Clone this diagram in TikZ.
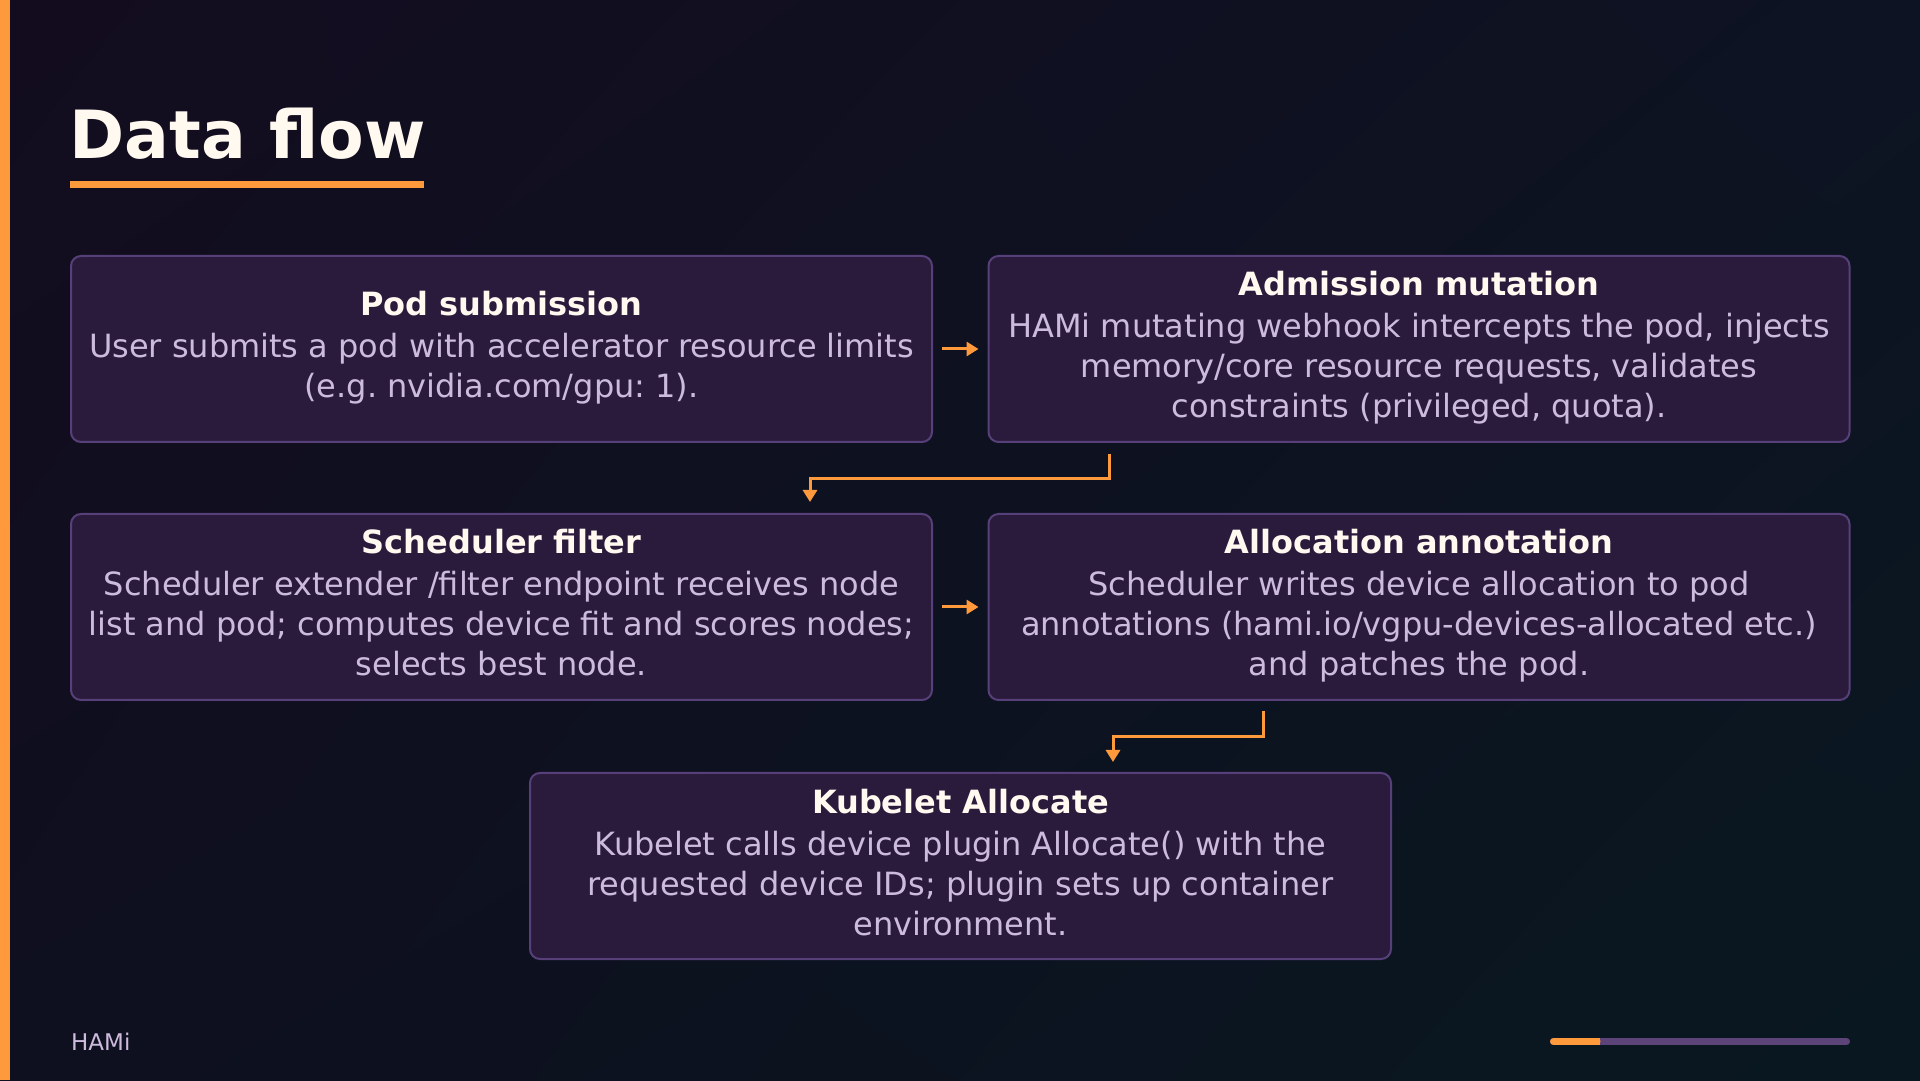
\documentclass[tikz,border=0pt]{standalone}
\usepackage{fontspec}
\setmainfont{DejaVu Sans}
\usetikzlibrary{arrows.meta,shadings}
\frenchspacing

\definecolor{bgtl}{HTML}{130C1F}
\definecolor{bgtr}{HTML}{0D1322}
\definecolor{bgbl}{HTML}{0E0F1F}
\definecolor{bgbr}{HTML}{091820}
\definecolor{accent}{HTML}{FF9A3C}
\definecolor{boxfill}{HTML}{2A1B3C}
\definecolor{boxline}{HTML}{57407A}
\definecolor{headtext}{HTML}{FFF9F0}
\definecolor{bodytext}{HTML}{CDBBDD}
\definecolor{barline}{HTML}{5C4479}

\tikzset{
  box/.style={draw=boxline, line width=2pt, fill=boxfill, rounded corners=10pt,
    minimum width=861pt, minimum height=186pt, inner sep=0pt, align=center,
    text=bodytext, font=\fontsize{32}{40}\selectfont},
  flow/.style={draw=accent, line width=3pt, -{Triangle[length=12pt,width=14pt]}},
}
\newcommand{\boxhead}[1]{{\strut\color{headtext}\bfseries #1}}

\begin{document}
\begin{tikzpicture}[x=1pt,y=1pt]

      \useasboundingbox (0,0) rectangle (1920,1080);
      \shade[upper left=bgtl, upper right=bgtr, lower left=bgbl, lower right=bgbr]
        (0,0) rectangle (1920,1080);
      \fill[accent] (0,0) rectangle (10,1080);

      \node[anchor=base west, inner sep=0pt, text=headtext,
        font=\fontsize{66.5}{70}\selectfont\bfseries] (title) at (69,921) {Data flow};
      \fill[accent] (70,892) rectangle (424,899);

      \node[box] (pod) at (501.5,731) {\boxhead{Pod submission}\\[2pt]
        User submits a pod with accelerator resource limits\\
        (e.g. nvidia.com/gpu: 1).\strut};
      \node[box] (adm) at (1419,731) {\boxhead{Admission mutation}\\[2pt]
        HAMi mutating webhook intercepts the pod, injects\\
        memory/core resource requests, validates\\
        constraints (privileged, quota).\strut};

      \node[box] (sch) at (501.5,473) {\boxhead{Scheduler filter}\\[2pt]
        Scheduler extender /filter endpoint receives node\\
        list and pod; computes device fit and scores nodes;\\
        selects best node.\strut};
      \node[box] (alloc) at (1419,473) {\boxhead{Allocation annotation}\\[2pt]
        Scheduler writes device allocation to pod\\
        annotations (hami.io/vgpu-devices-allocated etc.)\\
        and patches the pod.\strut};

      \node[box] (kub) at (960.5,214) {\boxhead{Kubelet Allocate}\\[2pt]
        Kubelet calls device plugin Allocate() with the\\
        requested device IDs; plugin sets up container\\
        environment.\strut};

      \draw (pod) edge[flow, shorten <=9pt, shorten >=9pt] (adm)
      (sch) edge[flow, shorten <=9pt, shorten >=9pt] (alloc);
      \draw[flow] ([xshift=122pt,yshift=-11pt]adm.south west) -- ++(0,-25)
        -| ([xshift=-123pt,yshift=11pt]sch.north east);
      \draw[flow] ([xshift=275.5pt,yshift=-10pt]alloc.south west) -- ++(0,-26)
        -| ([xshift=584pt,yshift=10pt]kub.north west);

      \node[anchor=base west, inner sep=0pt, text=bodytext,
        font=\fontsize{23}{28}\selectfont] (foot) at (71,30) {HAMi};
      \draw[barline, line width=7pt, line cap=round] (1553.5,38.5) -- (1846.5,38.5);
      \draw[accent, line width=7pt, line cap=round] (1553.5,38.5) -- (1597,38.5);
      \fill[accent] (1597,35) rectangle (1600,42);

\end{tikzpicture}
\end{document}
